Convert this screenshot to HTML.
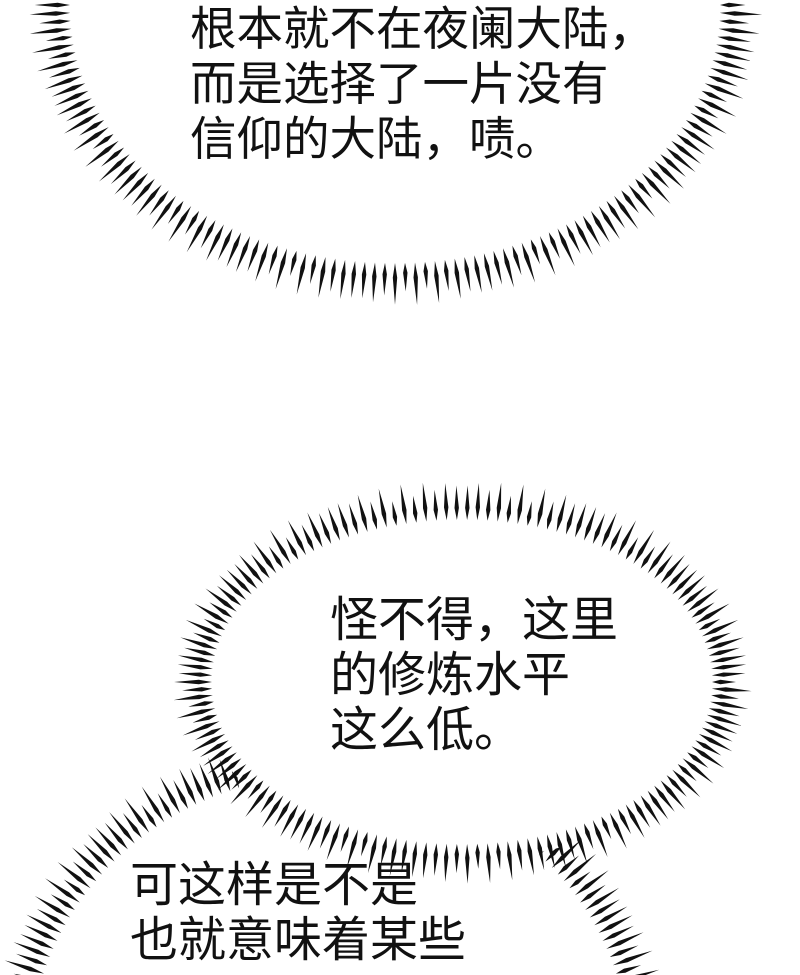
<!DOCTYPE html>
<html><head><meta charset="utf-8"><style>
html,body{margin:0;padding:0;background:#fff;width:800px;height:975px;overflow:hidden}
svg{position:absolute;left:0;top:0}
.t{position:absolute;font-family:"Liberation Sans","Noto Sans CJK SC",sans-serif;font-size:46px;line-height:55px;color:#111;white-space:nowrap}
</style></head><body>
<svg id="s" width="800" height="975" viewBox="0 0 800 975"></svg>
<div class="t" style="left:190px;top:2px;font-size:46.5px">根本就不在夜阑大陆，<br>而是选择了一片没有<br>信仰的大陆，啧。</div>
<div class="t" style="left:330px;top:593px;font-size:48px">怪不得，这里<br>的修炼水平<br>这么低。</div>
<div class="t" style="left:130px;top:858px;font-size:48px">可这样是不是<br>也就意味着某些</div>
<script>
var s=document.getElementById('s'),NS='http://www.w3.org/2000/svg';
function bubble(cx,cy,rx,ry,len,step){
  var g=document.createElementNS(NS,'g');
  var e=document.createElementNS(NS,'ellipse');
  e.setAttribute('cx',cx);e.setAttribute('cy',cy);e.setAttribute('rx',rx+len*0.5);e.setAttribute('ry',ry+len*0.5);e.setAttribute('fill','#fff');
  g.appendChild(e);
  var per=Math.PI*(3*(rx+ry)-Math.sqrt((3*rx+ry)*(rx+3*ry)));
  var n=Math.round(per/step),d='';
  for(var i=0;i<n;i++){
    var a=i/n*2*Math.PI;
    var c=Math.cos(a),sn=Math.sin(a);
    var L=len*(0.75+0.5*Math.abs(Math.sin(i*1.7)));
    var x0=cx+rx*c,y0=cy+ry*sn;
    var nx=c/rx,ny=sn/ry,nl=Math.hypot(nx,ny);nx/=nl;ny/=nl;
    var tx=-ny,ty=nx,w=2.2;
    var x1=x0+nx*L,y1=y0+ny*L;
    var mx=x0+nx*L*0.35,my=y0+ny*L*0.35;
    d+='M'+x0.toFixed(1)+' '+y0.toFixed(1)+'L'+(mx+tx*w).toFixed(1)+' '+(my+ty*w).toFixed(1)+'L'+x1.toFixed(1)+' '+y1.toFixed(1)+'L'+(mx-tx*w).toFixed(1)+' '+(my-ty*w).toFixed(1)+'Z';
  }
  var p=document.createElementNS(NS,'path');p.setAttribute('d',d);p.setAttribute('fill','#111');
  g.appendChild(p);s.appendChild(g);
}
bubble(395,5,325,258,34,9);
bubble(330,1060,300,285,34,9);
bubble(462,682,250,162,32,8.5);
</script>
</body></html>
